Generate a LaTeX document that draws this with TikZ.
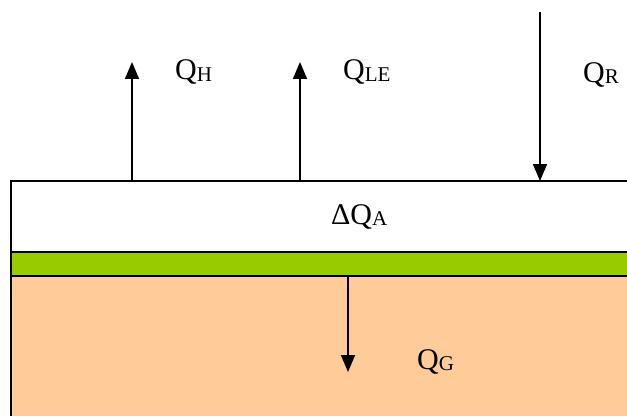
\documentclass[tikz,border=0pt]{standalone}
\usepackage{fontspec}
\setmainfont{Liberation Serif}
\usetikzlibrary{arrows.meta}
\definecolor{grass}{HTML}{99CC00}
\definecolor{soil}{HTML}{FFCC99}
\newcommand{\fluxlabel}[2]{#1Q{\fontsize{21}{21}\selectfont\raisebox{-1.5pt}{#2}}}
\tikzset{
  flux/.style={line width=1.6pt,-{Triangle[width=14pt,length=17pt]}},
  layer/.style={draw=black,line width=1.6pt},
  fluxtext/.style={inner sep=0pt,anchor=base west,font=\fontsize{30}{32}\selectfont}
}
\begin{document}
\begin{tikzpicture}[x=1pt,y=1pt]
	\useasboundingbox (0,0) rectangle (627,416);
	% Define the layers
	\fill[soil] (11,0) rectangle (630,140);
	\fill[grass] (11,140) rectangle (630,164);
	\draw[layer] (630,235) -- (11,235) -- (11,0);
	\draw[layer] (11,164) -- (630,164);
	\draw[layer] (11,140) -- (630,140);
	% Define the coordinates
	\coordinate (HS) at (132,235);
	\coordinate (HT) at (132,354);
	\coordinate (LS) at (300,235);
	\coordinate (LT) at (300,354);
	\coordinate (RT) at (540,404);
	\coordinate (RS) at (540,235);
	\coordinate (GS) at (348,140);
	\coordinate (GT) at (348,44);
	% Draw the fluxes
	\draw[flux] (HS) -- (HT);
	\draw[flux] (LS) -- (LT);
	\draw[flux] (RT) -- (RS);
	\draw[flux] (GS) -- (GT);
	% Add labels
	\node[fluxtext] (QH) at (175,336) {\fluxlabel{}{H}};
	\node[fluxtext] (QLE) at (343,336) {\fluxlabel{}{LE}};
	\node[fluxtext] (QR) at (583,334) {\fluxlabel{}{R}};
	\node[fluxtext] (QA) at (331,192) {\fluxlabel{Δ}{A}};
	\node[fluxtext] (QG) at (417,47) {\fluxlabel{}{G}};
\end{tikzpicture}
\end{document}
